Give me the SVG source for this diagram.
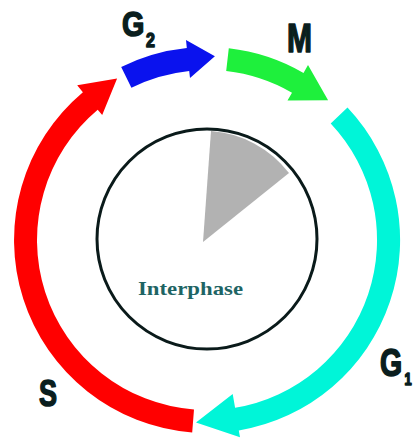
<svg xmlns="http://www.w3.org/2000/svg" width="414" height="441" viewBox="0 0 414 441">
  <style>
    .label { font-family: "Liberation Sans", Arial, sans-serif; font-weight: bold; fill: #0a1e1e; stroke: #0a1e1e; stroke-width: 1.6; stroke-linejoin: round; }
    .inner { font-family: "Liberation Serif", "Times New Roman", serif; font-weight: bold; fill: #1e6464; }
  </style>
  <rect width="414" height="441" fill="#ffffff"/>

  <!-- Interphase: inner cell with the shaded sector -->
  <g id="interphase">
    <path d="M203,242 L211,131 A108,108 0 0 1 289,173 Z" fill="#b2b2b2"/>
    <circle cx="207" cy="239" r="110" fill="none" stroke="#0a1a1a" stroke-width="3"/>
    <text class="inner" x="138" y="295" font-size="19" textLength="105" lengthAdjust="spacingAndGlyphs">Interphase</text>
  </g>

  <!-- S phase: long red arc on the left -->
  <g id="phase-s">
    <path d="M192.2,432.4 A193,193 0 0 1 82.9,92.2 L77.2,85.3 L117.1,78.5 L102.2,115.1 L97.7,109.8 A170,170 0 0 0 194.0,409.5 Z" fill="#ff0000"/>
    <text class="label" x="39" y="406" font-size="37" textLength="18" lengthAdjust="spacingAndGlyphs">S</text>
  </g>

  <!-- G2 phase: short blue arc at the top left -->
  <g id="phase-g2">
    <path d="M121.2,67.1 A193,193 0 0 1 186.8,48.1 L186.0,40.1 L214.9,56.2 L190.0,77.9 L189.2,70.9 A170,170 0 0 0 131.4,87.7 Z" fill="#0a12ee"/>
    <text class="label" transform="translate(122,36) scale(0.8,1)" font-size="36">G<tspan font-size="20" dx="2" dy="11">2</tspan></text>
  </g>

  <!-- M phase: short green arc at the top right -->
  <g id="phase-m">
    <path d="M228.8,48.2 A193,193 0 0 1 303.5,72.9 L308.0,65.1 L328.1,100.3 L287.5,100.6 L292.0,92.8 A170,170 0 0 0 226.2,71.1 Z" fill="#1ef03c"/>
    <text class="label" x="287" y="52" font-size="40" textLength="25" lengthAdjust="spacingAndGlyphs">M</text>
  </g>

  <!-- G1 phase: long cyan arc on the right -->
  <g id="phase-g1">
    <path d="M347.5,107.6 A193,193 0 0 1 238.8,430.4 L240.0,437.3 L196.0,422.4 L232.7,393.9 L235.1,407.7 A170,170 0 0 0 330.7,123.4 Z" fill="#00f5d8"/>
    <text class="label" transform="translate(380,376) scale(0.75,1)" font-size="38">G<tspan font-size="17" dx="3" dy="9">1</tspan></text>
  </g>
</svg>
